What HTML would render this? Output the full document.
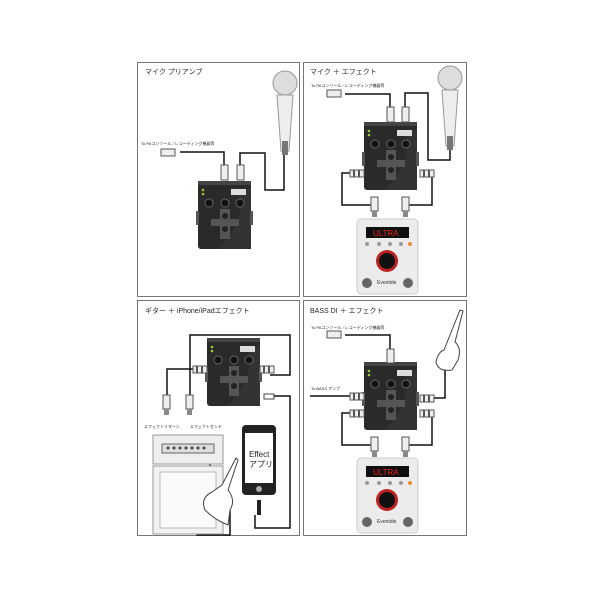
<!DOCTYPE html>
<html><head><meta charset="utf-8"><style>
html,body{margin:0;padding:0;background:#fff;}
svg{display:block;}
text{font-family:"Liberation Sans","Noto Sans CJK JP",sans-serif;}
</style></head><body>
<svg width="600" height="600" viewBox="0 0 600 600" xmlns="http://www.w3.org/2000/svg">
<defs>
<g id="box">
 <rect x="0" y="0" width="53" height="68" rx="3" fill="#2a2a2a"/>
 <rect x="0" y="0" width="53" height="4" fill="#444"/>
 <path d="M20 68 Q50 40 40 8 L53 8 L53 68 Z" fill="#333"/>
 <rect x="33" y="8" width="15" height="6" fill="#ddd"/>
 <circle cx="5" cy="9" r="1.3" fill="#9c3"/><circle cx="5" cy="13" r="1.3" fill="#9c3"/>
 <circle cx="11" cy="22" r="4" fill="#111" stroke="#666"/><circle cx="27" cy="22" r="4" fill="#111" stroke="#666"/><circle cx="42" cy="22" r="4" fill="#111" stroke="#666"/>
 <rect x="22" y="28" width="10" height="30" fill="#555"/><rect x="13" y="38" width="28" height="7" fill="#555"/>
 <circle cx="27" cy="35" r="3" fill="#222"/><circle cx="27" cy="48" r="3" fill="#222"/>
 <rect x="-2" y="30" width="3" height="14" fill="#555"/><rect x="52" y="30" width="3" height="14" fill="#555"/>
</g>
<g id="h9">
 <rect x="0" y="0" width="61" height="75" rx="4" fill="#ececec" stroke="#ccc"/>
 <rect x="9" y="8" width="43" height="11" fill="#111"/>
 <text x="16" y="17" font-size="8" fill="#e22" font-family="Liberation Mono,monospace">ULTRA</text>
 <g fill="#999"><circle cx="10" cy="25" r="2"/><circle cx="22" cy="25" r="2"/><circle cx="33" cy="25" r="2"/><circle cx="44" cy="25" r="2"/><circle cx="53" cy="25" r="2" fill="#e83"/></g>
 <circle cx="30" cy="42" r="11" fill="#b22"/><circle cx="30" cy="42" r="8" fill="#111"/>
 <circle cx="10" cy="64" r="5" fill="#666"/><circle cx="51" cy="64" r="5" fill="#666"/>
 <text x="20" y="65" font-size="5" fill="#333">Eventide</text>
</g>
<g id="mic">
 <circle cx="0" cy="0" r="12" fill="#ddd" stroke="#999"/>
 <path d="M-8 12 L8 12 L4 68 L-4 68 Z" fill="#eee" stroke="#999"/>
 <rect x="-3" y="58" width="6" height="14" fill="#777"/>
</g>
<g id="plug"><rect x="0" y="0" width="7" height="14" fill="#eee" stroke="#555"/><rect x="1" y="14" width="5" height="6" fill="#888"/></g>
<g id="hplug"><rect x="0" y="0" width="14" height="7" fill="#eee" stroke="#555"/><rect x="3" y="0" width="2" height="7" fill="#555"/><rect x="8" y="0" width="2" height="7" fill="#555"/></g>
</defs>
<g fill="none" stroke="#777" stroke-width="1">
<rect x="137.5" y="62.5" width="162" height="234"/>
<rect x="303.5" y="62.5" width="163" height="234"/>
<rect x="137.5" y="300.5" width="162" height="235"/>
<rect x="303.5" y="300.5" width="163" height="235"/>
</g>
<g font-size="7" fill="#222">
<text x="145" y="74">マイク プリアンプ</text>
<text x="310" y="74">マイク ＋ エフェクト</text>
<text x="145" y="313">ギター ＋ iPhone/iPadエフェクト</text>
<text x="310" y="313">BASS DI ＋ エフェクト</text>
</g>
<g font-size="4" fill="#222">
<text x="141" y="145">To PAコンソール / レコーディング機器等</text>
<text x="311" y="87">To PAコンソール / レコーディング機器等</text>
<text x="311" y="329">To PAコンソール / レコーディング機器等</text>
<text x="311" y="390">To BASS アンプ</text>
<text x="144" y="428">エフェクトリターン</text>
<text x="190" y="428">エフェクトセンド</text>
</g>
<!-- cables -->
<g fill="none" stroke="#111" stroke-width="1.5">
<path d="M180 152 H224 V165"/>
<path d="M240 165 V153 H265 V190 H284 V148"/>
<path d="M345 94 H390 V108"/>
<path d="M405 108 V93 H428 V160 H450 V140"/>
<path d="M350 173 H342 V205 H374 V215"/>
<path d="M420 173 H432 V205 H405 V215"/>
<path d="M207 369 H167 V395"/>
<path d="M190 395 V335 H290 V375 H270"/>
<path d="M272 396 H290 V528 H255 V515"/>
<path d="M210 463 V520 H197 V535 H230 V510"/>
<path d="M345 335 H390 V350"/>
<path d="M310 396 H350"/>
<path d="M425 398 H445 V355"/>
<path d="M350 413 H342 V445 H374 V453"/>
<path d="M420 413 H432 V445 H405 V453"/>
</g>
<!-- panel1 -->
<use href="#mic" x="285" y="83"/>
<use href="#box" x="198" y="181"/>
<g fill="#eee" stroke="#555"><rect x="161" y="149" width="14" height="7"/><rect x="221" y="165" width="7" height="15"/><rect x="237" y="165" width="7" height="15"/></g>
<!-- panel2 -->
<use href="#mic" x="450" y="78"/>
<use href="#box" x="364" y="122"/>
<use href="#h9" x="357" y="219"/>
<g fill="#eee" stroke="#555"><rect x="327" y="90" width="14" height="7"/><rect x="387" y="107" width="7" height="15"/><rect x="402" y="107" width="7" height="15"/></g>
<use href="#hplug" x="350" y="170"/><use href="#hplug" x="420" y="170"/>
<use href="#plug" x="371" y="197"/><use href="#plug" x="402" y="197"/>
<!-- panel3 -->
<use href="#box" x="207" y="338"/>
<use href="#hplug" x="193" y="366"/><use href="#hplug" x="260" y="366"/>
<use href="#plug" x="163" y="395"/><use href="#plug" x="186" y="395"/>
<rect x="153" y="435" width="70" height="29" fill="#eee" stroke="#999"/>
<rect x="162" y="444" width="52" height="9" fill="#ddd" stroke="#666"/>
<g fill="#444"><circle cx="168" cy="448" r="1.5"/><circle cx="174" cy="448" r="1.5"/><circle cx="180" cy="448" r="1.5"/><circle cx="186" cy="448" r="1.5"/><circle cx="192" cy="448" r="1.5"/><circle cx="198" cy="448" r="1.5"/><circle cx="204" cy="448" r="1.5"/></g>
<rect x="153" y="466" width="70" height="68" fill="#f2f2f2" stroke="#999"/>
<rect x="160" y="472" width="56" height="56" fill="#fafafa" stroke="#bbb"/>
<rect x="242" y="425" width="34" height="70" rx="4" fill="#222"/>
<rect x="245" y="433" width="28" height="50" fill="#fff"/>
<circle cx="259" cy="489" r="3" fill="#aaa"/>
<text x="249" y="457" font-size="8" fill="#222">Effect</text>
<text x="249" y="467" font-size="8" fill="#222">アプリ</text>
<rect x="257" y="500" width="4" height="15" fill="#222"/>
<rect x="264" y="394" width="10" height="5" fill="#fff" stroke="#444"/>
<path d="M228 525 Q215 520 205 510 Q200 498 212 492 L222 485 L236 458 L238 460 L228 490 Q236 500 230 510 Z" fill="#fff" stroke="#444"/>
<!-- panel4 -->
<use href="#box" x="364" y="362"/>
<use href="#h9" x="357" y="458"/>
<g fill="#eee" stroke="#555"><rect x="327" y="331" width="14" height="7"/><rect x="387" y="349" width="7" height="14"/></g>
<use href="#hplug" x="350" y="393"/><use href="#hplug" x="420" y="395"/>
<use href="#hplug" x="350" y="410"/><use href="#hplug" x="420" y="410"/>
<use href="#plug" x="371" y="437"/><use href="#plug" x="402" y="437"/>
<path d="M452 370 Q438 372 436 362 Q438 352 444 350 L448 340 L460 310 L463 311 L455 342 Q462 348 458 360 Z" fill="#fff" stroke="#444"/>
</svg>
</body></html>
